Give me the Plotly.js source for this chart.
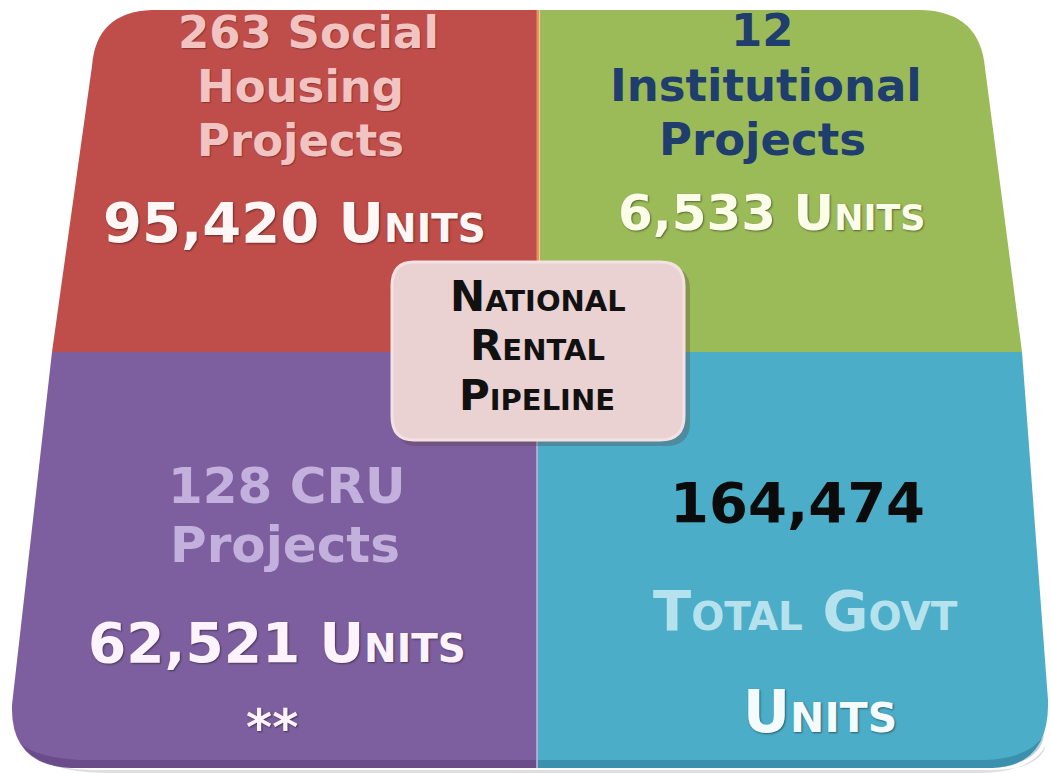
<!DOCTYPE html>
<html>
<head>
<meta charset="utf-8">
<script src="https://cdn.plot.ly/plotly-3.0.1.min.js"></script>
<style>html,body{margin:0;padding:0;background:#fff;}#chart{width:1051px;height:773px;}</style>
</head>
<body>
<div id="chart"></div>
<script>
// ---- data ----
const projectCounts = [263, 12, 128];
const projectLabels = [["Social", "Housing", "Projects"], ["", "Institutional", "Projects"], ["CRU", "Projects"]];
const unitCounts = [95420, 6533, 62521];
const totalUnits = 164474;
const centerTitle = ["National", "Rental", "Pipeline"];
const totalLabel = ["Total Govt", "Units"];
const unitWord = "Units";
const footnote = "**";

const fmt = n => n.toLocaleString("en-US");

// quadrant colours
const colRed = "#bf4d4a", colGreen = "#9bbb59", colPurple = "#7d5f9f", colBlue = "#4badc8";

const shapes = [];
// faint shadow under the board
shapes.push({type:"path", xref:"x", yref:"y", layer:"below",
  path:"M 40 758 Q 60 773 110 773 L 980 773 Q 1030 773 1046 745 Q 1040 770 990 770 L 100 770 Q 55 770 40 758 Z",
  fillcolor:"rgba(150,150,150,0.3)", line:{width:0}});
// red (top-left)
shapes.push({type:"path", xref:"x", yref:"y",
  path:"M 537 10 L 152 10 Q 96 12 92 66 L 52 352 L 537 352 Z",
  fillcolor:colRed, line:{width:0}});
// green (top-right)
shapes.push({type:"path", xref:"x", yref:"y",
  path:"M 540 10 L 922 10 Q 980 12 985 68 L 1022 352 L 540 352 Z",
  fillcolor:colGreen, line:{width:0}});
// purple (bottom-left)
shapes.push({type:"path", xref:"x", yref:"y",
  path:"M 537 352 L 52 352 L 12 705 Q 10 766 72 768 L 537 768 Z",
  fillcolor:colPurple, line:{width:0}});
// blue (bottom-right)
shapes.push({type:"path", xref:"x", yref:"y",
  path:"M 537 352 L 1022 352 L 1048 700 Q 1050 766 992 768 L 537 768 Z",
  fillcolor:colBlue, line:{width:0}});
// bottom 3D edge bands
shapes.push({type:"path", xref:"x", yref:"y",
  path:"M 22 745 Q 36 766 72 768 L 537 768 L 537 760 L 80 760 Q 40 758 22 745 Z",
  fillcolor:"rgba(60,30,90,0.28)", line:{width:0}});
shapes.push({type:"path", xref:"x", yref:"y",
  path:"M 537 760 L 985 760 Q 1030 758 1044 735 Q 1040 764 992 768 L 537 768 Z",
  fillcolor:"rgba(10,60,90,0.25)", line:{width:0}});
// thin divider highlight
shapes.push({type:"line", xref:"x", yref:"y", x0:538, x1:538, y0:10, y1:352, line:{color:"#e9925a", width:3}});
shapes.push({type:"line", xref:"x", yref:"y", x0:537, x1:537, y0:352, y1:768, line:{color:"#c8b6dc", width:1.5}});
// center box shadow + box
shapes.push({type:"path", xref:"x", yref:"y",
  path:"M 416 266 L 666 266 Q 690 266 690 290 L 690 422 Q 690 446 666 446 L 416 446 Q 396 446 396 422 L 396 290 Q 396 266 416 266 Z",
  fillcolor:"rgba(90,60,60,0.3)", line:{width:0}});
shapes.push({type:"path", xref:"x", yref:"y",
  path:"M 414 262 L 660 262 Q 684 262 684 286 L 684 416 Q 684 440 660 440 L 414 440 Q 392 440 392 416 L 392 286 Q 392 262 414 262 Z",
  fillcolor:"#ead1d2", line:{color:"#f4e2e3", width:3}});

const ann = [];
function addText(txt, x, y, size, color, opts) {
  opts = opts || {};
  ann.push({text:txt, x:x, y:y, xref:"x", yref:"y", showarrow:false, xanchor:"center", yanchor:"middle",
    font:Object.assign({family:"'DejaVu Sans', sans-serif", size:size, color:color, weight:700}, opts.font||{})});
}
const sh = "1px 1px 2px rgba(0,0,0,0.45)";
const pinkSh = "1px 1px 1px rgba(0,0,0,0.3)";
// red quadrant
addText(projectCounts[0] + " " + projectLabels[0][0], 308, 32, 45, "#f1c4c2", {font:{shadow:pinkSh}});
addText(projectLabels[0][1], 300, 86, 45, "#f1c4c2", {font:{shadow:pinkSh}});
addText(projectLabels[0][2], 300, 140, 45, "#f1c4c2", {font:{shadow:pinkSh}});
addText(fmt(unitCounts[0]) + " " + unitWord, 294, 222, 56, "#fff7f5", {font:{variant:"small-caps", shadow:sh}});
// green quadrant
addText(String(projectCounts[1]), 762, 30, 45, "#1f3d6d");
addText(projectLabels[1][1], 766, 85, 45, "#1f3d6d");
addText(projectLabels[1][2], 762, 139, 45, "#1f3d6d");
addText(fmt(unitCounts[1]) + " " + unitWord, 772, 213, 50, "#fbfde9", {font:{variant:"small-caps", shadow:sh}});
// center
addText(centerTitle[0], 538, 296, 42, "#111111", {font:{variant:"small-caps"}});
addText(centerTitle[1], 537, 345, 42, "#111111", {font:{variant:"small-caps"}});
addText(centerTitle[2], 537, 395, 42, "#111111", {font:{variant:"small-caps"}});
// purple quadrant
addText(projectCounts[2] + " " + projectLabels[2][0], 287, 486, 50, "#c4b0dc");
addText(projectLabels[2][1], 285, 545, 50, "#c4b0dc");
addText(fmt(unitCounts[2]) + " " + unitWord, 277, 643, 55, "#fdf3fd", {font:{variant:"small-caps", shadow:sh}});
addText(footnote, 272, 728, 50, "#fdf3fd", {font:{shadow:sh}});
// blue quadrant
addText(fmt(totalUnits), 797, 502, 56, "#0b0b0b");
addText(totalLabel[0], 805, 610, 56, "#b6e2ee", {font:{variant:"small-caps"}});
addText(totalLabel[1], 820, 712, 58, "#f3fbfd", {font:{variant:"small-caps", shadow:sh}});

const layout = {
  width:1051, height:773,
  margin:{l:0, r:0, t:0, b:0},
  paper_bgcolor:"#ffffff", plot_bgcolor:"#ffffff",
  xaxis:{range:[0,1051], visible:false, fixedrange:true},
  yaxis:{range:[773,0], visible:false, fixedrange:true},
  shapes:shapes, annotations:ann, showlegend:false
};
Plotly.newPlot("chart", [{x:[], y:[], type:"scatter", hoverinfo:"skip"}], layout, {displayModeBar:false, staticPlot:true});
</script>
</body>
</html>
